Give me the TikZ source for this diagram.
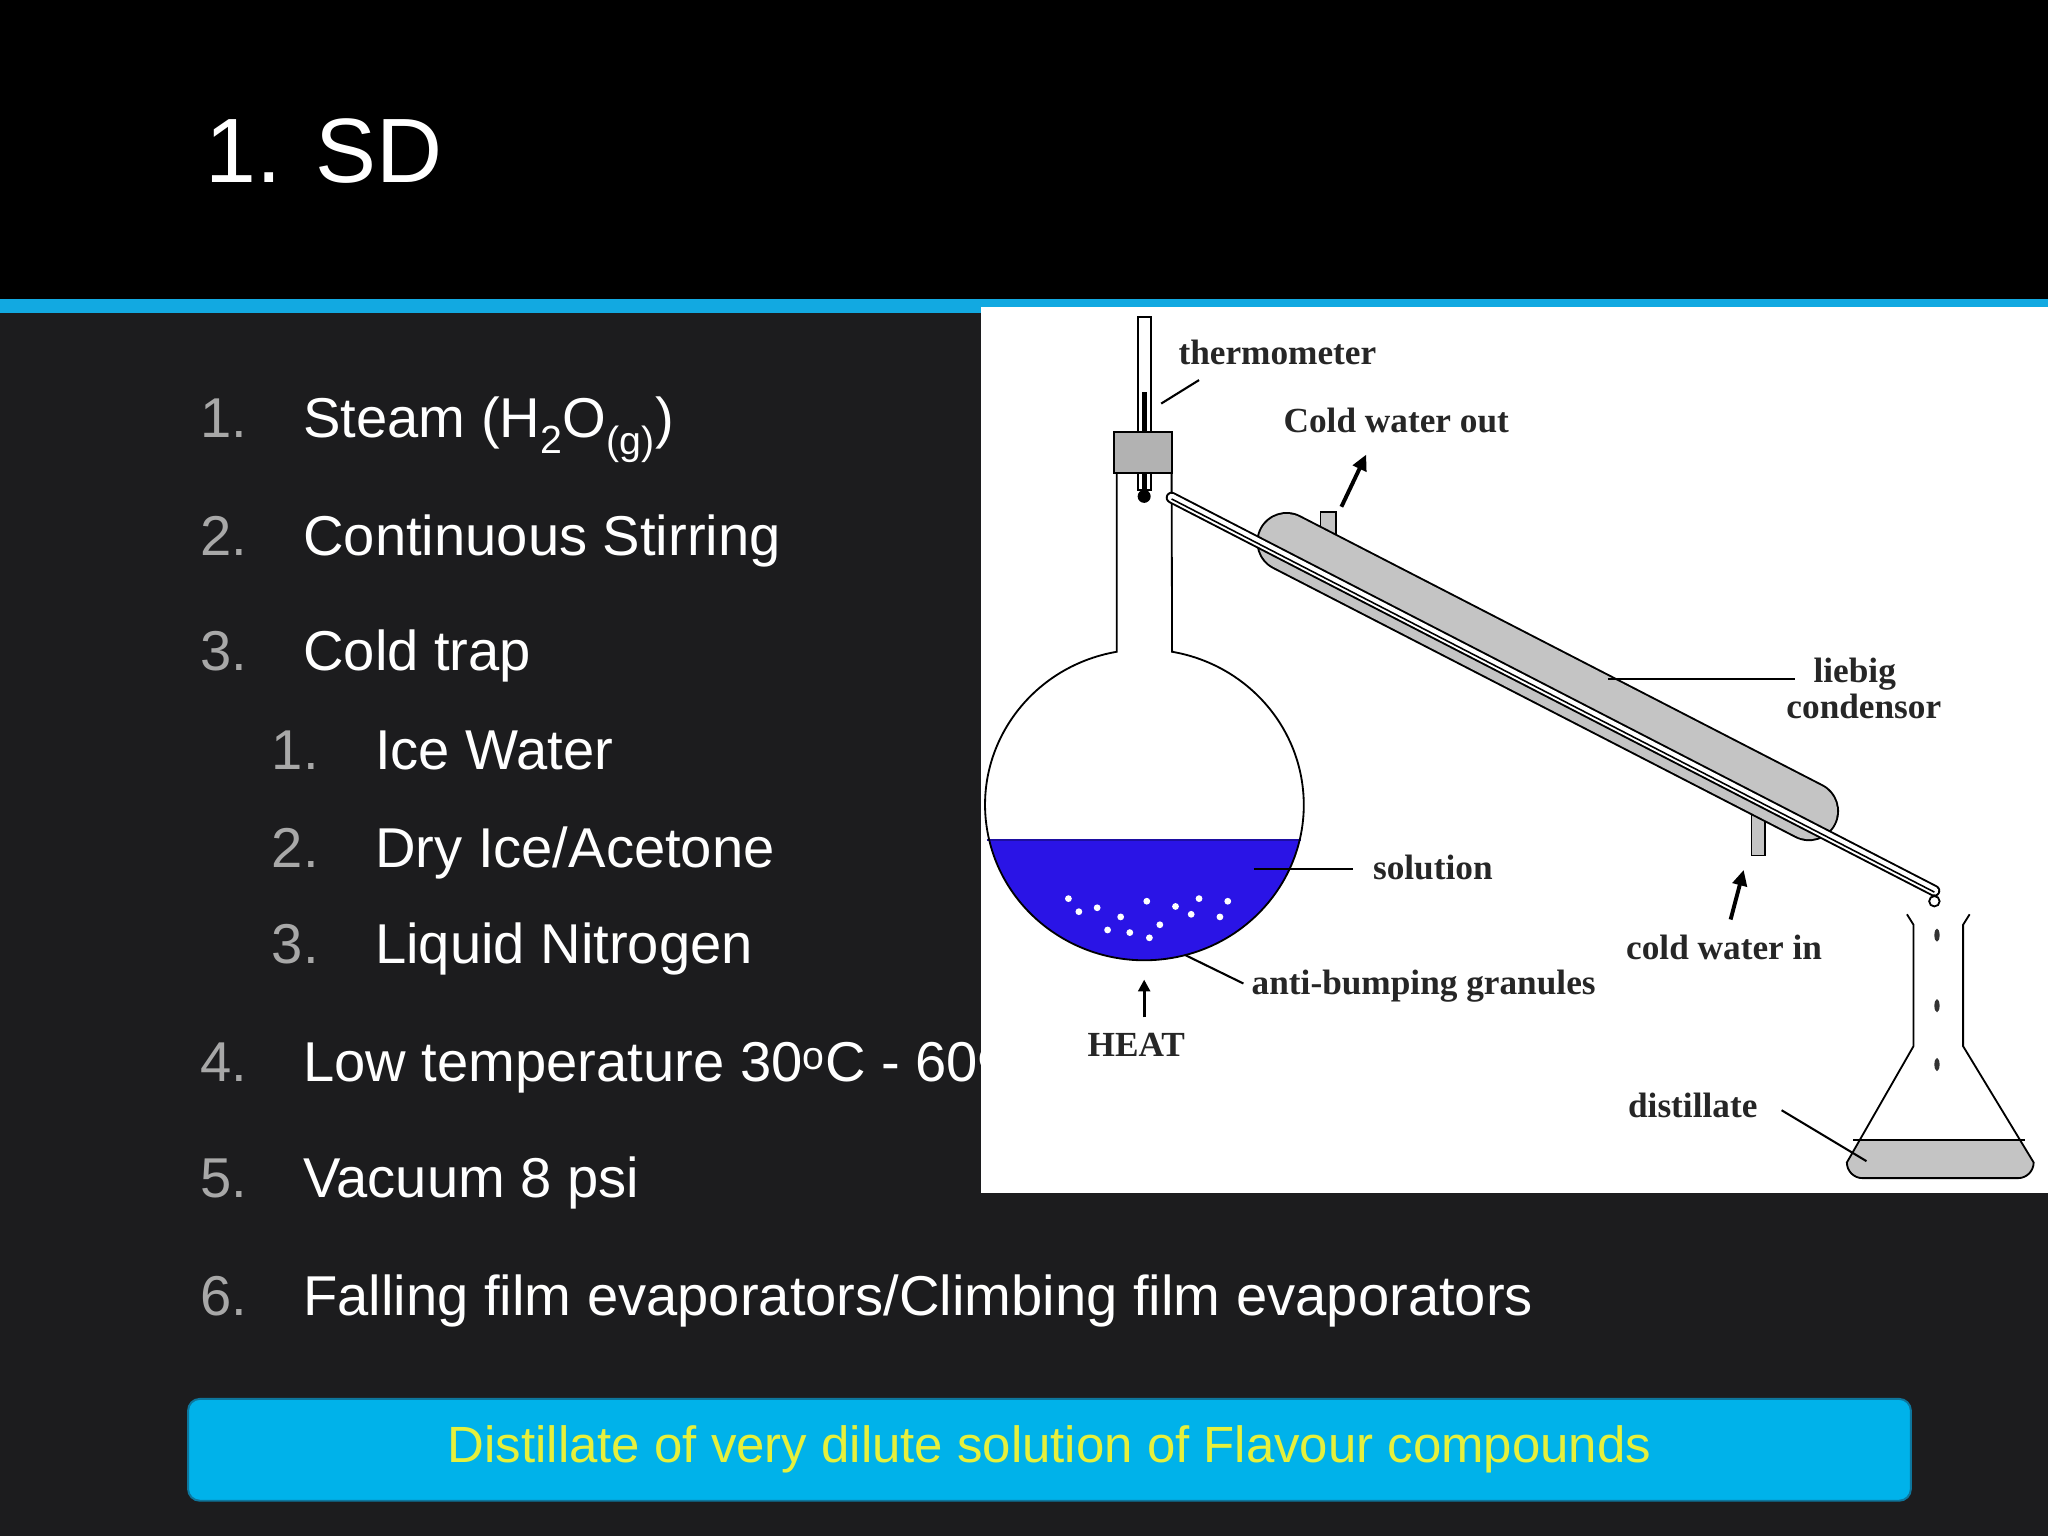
\documentclass[tikz,border=0pt]{standalone}
\usepackage{fontspec}
\setmainfont{Liberation Sans}
\newfontfamily\dserif{Liberation Serif}
\usetikzlibrary{arrows.meta}
\definecolor{bg}{HTML}{1C1C1E}
\definecolor{accent}{HTML}{12A9E1}
\definecolor{boxblue}{HTML}{00B2EA}
\definecolor{ytext}{HTML}{E6F03C}
\definecolor{numgray}{HTML}{A8A8A8}
\definecolor{liq}{HTML}{2A14E6}
\definecolor{jacket}{HTML}{C4C4C4}
\tikzset{
  num/.style={anchor=base west,text=numgray,font=\fontsize{43}{46}\selectfont,inner sep=0},
  item/.style={anchor=base west,text=white,font=\fontsize{43}{46}\selectfont,inner sep=0},
  dl/.style={font=\dserif\bfseries\fontsize{27}{28}\selectfont,inner sep=0,text=black!85},
  ld/.style={draw=black,line width=1.6pt},
  glass/.style={draw=black,line width=1.4pt},
  arr/.style={-{Triangle[length=12pt,width=11pt]},line width=3pt}
}
\begin{document}
\begin{tikzpicture}[x=1pt,y=-1pt]
\useasboundingbox (0,0) rectangle (1568,1176);
\fill[bg] (0,0) rectangle (1568,1176);
\fill[black] (0,0) rectangle (1568,230);
\fill[accent] (0,229) rectangle (1568,240);
\node[anchor=base west,text=white,font=\fontsize{70}{78}\selectfont,inner sep=0] (title) at (157,140) {1. SD};
% list
\node[num] (n1) at (153,335) {1.}; \node[item] (t1) at (232,335) {Steam (H\textsubscript{2}O\textsubscript{(g)})};
\node[num] (n2) at (153,425) {2.}; \node[item] (t2) at (232,425) {Continuous Stirring};
\node[num] (n3) at (153,513) {3.}; \node[item] (t3) at (232,513) {Cold trap};
\node[num] (s1) at (208,589) {1.}; \node[item] (u1) at (287,589) {Ice Water};
\node[num] (s2) at (208,664) {2.}; \node[item] (u2) at (287,664) {Dry Ice/Acetone};
\node[num] (s3) at (208,738) {3.}; \node[item] (u3) at (287,738) {Liquid Nitrogen};
\node[num] (n4) at (153,828) {4.}; \node[item] (t4) at (232,828) {Low temperature 30\textsuperscript{o}C - 60\textsuperscript{o}C};
\node[num] (n5) at (153,917) {5.}; \node[item] (t5) at (232,917) {Vacuum 8 psi};
\node[num] (n6) at (153,1007) {6.}; \node[item] (t6) at (232,1007) {Falling film evaporators/Climbing film evaporators};
% bottom box
\node[draw=accent!70!black,line width=1.5pt,fill=boxblue,rounded corners=9pt,minimum width=1319pt,minimum height=78pt,
  text=ytext,font=\fontsize{39}{42}\selectfont] (box) at (803.5,1110) {Distillate of very dilute solution of Flavour compounds};
% diagram panel
\fill[white] (751,235) rectangle (1568,913);
% liquid in flask
\begin{scope}
  \clip (751,643) rectangle (1010,740);
  \fill[liq] (876,616) ellipse (122 and 119);
\end{scope}
\draw[liq!70!black,line width=1.4pt] (756,643) -- (996,643);
\foreach \p in {(818,688),(840,695),(858,702),(878,690),(900,694),(918,688),(940,690),(826,698),(865,714),(888,708),(912,700),(934,702),(848,712),(880,718)}
  \fill[white] \p circle (2.6);
% flask
\draw[glass] (855,362) -- (855,499) arc[start angle=-100,end angle=-440,x radius=122,y radius=119] -- (897,362);
% thermometer
\draw[glass,fill=white] (871,243) rectangle (881,375);
\fill[black] (874,300) rectangle (878,375);
\fill[black] (876,380) circle (5);
\draw[glass,fill=gray!60] (853,331) rectangle (897,362);
% condenser stubs
\draw[glass,fill=jacket] (1011,412) -- (1011,392) -- (1023,392) -- (1023,412);
\draw[glass,fill=jacket] (1341,615) -- (1341,655) -- (1351,655) -- (1351,615);
% condenser jacket
\coordinate (ja) at (985,415); \coordinate (jb) at (1385,621);
\draw[black,line cap=round,line width=46pt] (ja) -- (jb);
\draw[jacket,line cap=round,line width=43pt] (ja) -- (jb);
% inner tube
\coordinate (ta) at (897,381); \coordinate (tb) at (1481,682);
\draw[black,line width=9pt,line cap=round] (ta) -- (tb);
\draw[white,line width=6pt,line cap=round] (ta) -- (tb);
\draw[black,line width=1.2pt] ([yshift=-1pt]ta) -- ([yshift=-1pt]tb);
\draw[glass,fill=white] (1481,690) circle (4);
% receiver
\begin{scope}
\clip (1465,801) -- (1414,890) arc[start angle=180,end angle=90,radius=12] -- (1545,902) arc[start angle=90,end angle=0,radius=12] -- (1503,801) -- cycle;
\fill[jacket] (1400,873) rectangle (1570,910);
\end{scope}
\draw[glass] (1460,700) -- (1465,708) -- (1465,801) -- (1414,890) arc[start angle=180,end angle=90,radius=12] -- (1545,902) arc[start angle=90,end angle=0,radius=12] -- (1503,801) -- (1503,708) -- (1508,700);
\draw[glass] (1419,873) -- (1550,873);
\foreach \yy in {716,770,815} \fill[black!80] (1483,\yy) ellipse (2 and 5);
% arrows
\coordinate (ao1) at (1027,388); \coordinate (ao2) at (1046,348);
\draw[arr] (ao1) -- (ao2);
\coordinate (ai1) at (1325,704); \coordinate (ai2) at (1335,666);
\draw[arr] (ai1) -- (ai2);
\coordinate (h1) at (876,779); \coordinate (h2) at (876,750);
\draw[-{Triangle[length=9pt,width=9pt]},line width=2.2pt] (h1) -- (h2);
% labels
\node[dl] (lth) at (978,270) {thermometer};
\coordinate (th1) at (889,309); \coordinate (th2) at (918,291);
\draw[ld] (th1) -- (th2);
\node[dl] (lcwo) at (1069,322) {Cold water out};
\node[dl] (llc1) at (1420,516) {liebig};
\node[dl] (llc2) at (1427,541) {condensor};
\coordinate (lc1) at (1231,520); \coordinate (lc2) at (1374,520); \draw[ld] (lc1) -- (lc2);
\node[dl] (lsol) at (1097,664) {solution};
\coordinate (so1) at (960,665); \coordinate (so2) at (1036,665); \draw[ld] (so1) -- (so2);
\node[dl] (lab) at (1090,755) {anti-bumping granules};
\coordinate (ab1) at (907,731); \coordinate (ab2) at (952,753); \draw[ld] (ab1) -- (ab2);
\node[dl] (lheat) at (870,800) {HEAT};
\node[dl] (lcwi) at (1320,725) {cold water in};
\node[dl] (ldis) at (1296,846) {distillate};
\coordinate (di0) at (1364,850); \coordinate (di1) at (1429,889); \draw[ld] (di0) -- (di1);
\end{tikzpicture}
\end{document}
